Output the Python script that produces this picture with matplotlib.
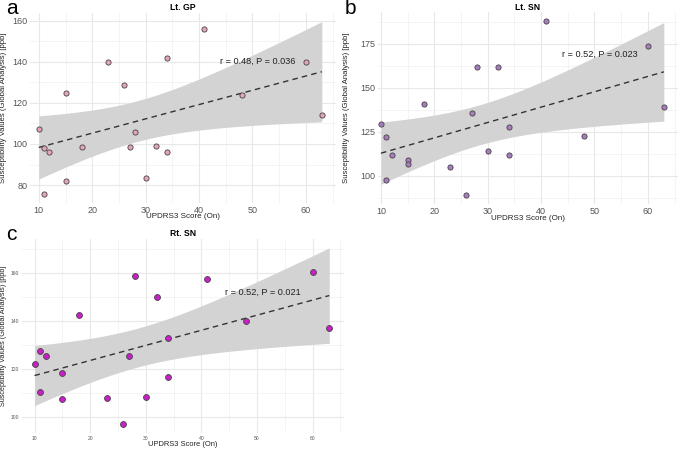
#!/usr/bin/env python
# -*- coding: utf-8 -*-
"""
UPDRS3 score vs. susceptibility values: three scatter panels with linear fit and 95% CI
"""

import numpy as np
import matplotlib
matplotlib.use('Agg')
import matplotlib.pyplot as plt
from matplotlib.ticker import MultipleLocator

plt.rcParams['font.family'] = ['Liberation Sans', 'DejaVu Sans']

# UPDRS3 score (On), shared by all panels
updrs3 = [10, 11, 11, 12, 15, 15, 18, 23, 26, 27, 28, 30, 32, 34, 34, 41, 48, 60, 63]

# susceptibility values [ppb]
lt_gp = [107.5, 98, 75.5, 96, 125, 82, 98.5, 140, 128.5, 98.5, 106, 83.5, 99, 142, 96, 156, 124, 140, 114]
lt_sn = [129.5, 122, 97.5, 112, 109, 107, 140.5, 105, 89, 135.5, 161.5, 114, 162, 128, 112, 188, 122.5, 173.5, 139]
rt_sn = [122, 127.5, 110.5, 125.5, 118.5, 107.5, 142.5, 108, 97, 125.5, 158.5, 108.5, 150, 133, 116.5, 157.5, 140, 160.5, 137]

titles = ['Lt. GP', 'Lt. SN', 'Rt. SN']
letters = ['a', 'b', 'c']
stats_text = ['r = 0.48, P = 0.036', 'r = 0.52, P = 0.023', 'r = 0.52, P = 0.021']
text_y = [140, 169, 152]
point_colors = ['#e6a3b9', '#a97cbf', '#c81fc8']

T_975_DF17 = 2.1098  # t quantile for 95% CI, n = 19

W, H = 678, 450


def fit_with_ci(x, y):
    """最小二乘直线 + 95%置信带"""
    x = np.asarray(x, float)
    y = np.asarray(y, float)
    n = len(x)
    slope, intercept = np.polyfit(x, y, 1)
    resid = y - (slope * x + intercept)
    s = np.sqrt(np.sum(resid ** 2) / (n - 2))
    xs = np.linspace(x.min(), x.max(), 100)
    fit = slope * xs + intercept
    se = s * np.sqrt(1 / n + (xs - x.mean()) ** 2 / np.sum((x - x.mean()) ** 2))
    return xs, fit, fit - T_975_DF17 * se, fit + T_975_DF17 * se


def draw_panel(ax, box, y, idx, sizes, ylocs, xleft, label_px):
    left, top, right, bottom = box
    xs, fit, lo, hi = fit_with_ci(updrs3, y)
    ax.fill_between(xs, lo, hi, color='#d3d3d3', lw=0, zorder=1)
    ax.plot(xs, fit, ls=(0, (4, 3)), color='#333333', lw=1.0, zorder=2)
    ax.scatter(updrs3, y, s=14 if idx < 2 else 18, c=point_colors[idx],
               edgecolors='#444444', linewidths=0.6, zorder=3)
    ax.text(51, text_y[idx], stats_text[idx], ha='center', va='center',
            fontsize=6.6, color='#222222', zorder=4)

    ax.margins(0.05)
    ax.set_xlim(xleft, 65.65)

    ax.xaxis.set_major_locator(MultipleLocator(10))
    ax.xaxis.set_minor_locator(MultipleLocator(5))
    ax.yaxis.set_major_locator(MultipleLocator(ylocs[0]))
    ax.yaxis.set_minor_locator(MultipleLocator(ylocs[1]))
    ax.grid(True, which='major', color='#e8e8e8', lw=0.8)
    ax.grid(True, which='minor', color='#f0f0f0', lw=0.5)
    ax.set_axisbelow(True)
    for sp in ax.spines.values():
        sp.set_visible(False)
    ax.tick_params(which='both', length=0, labelsize=sizes[0],
                   labelcolor='#555555', pad=2)

    ax.set_title(titles[idx], fontsize=6.2, fontweight='bold', pad=sizes[2])
    ax.set_xlabel('UPDRS3 Score (On)', fontsize=sizes[1], color='#222222')
    ax.set_ylabel('Susceptibility Values (Global Analysis) [ppb]', fontsize=sizes[1] - 0.2,
                  color='#222222')
    # 轴标题位置（像素）
    ylab_x, xlab_y = label_px
    ax.yaxis.set_label_coords((ylab_x - left) / (right - left), 0.5)
    ax.xaxis.set_label_coords(0.5, (bottom - xlab_y) / (bottom - top))
    ax.xaxis.label.set_va('center')
    ax.yaxis.label.set_va('center')


fig = plt.figure(figsize=(W / 100, H / 100), dpi=100)


def px_axes(box):
    left, top, right, bottom = box
    return fig.add_axes([left / W, 1 - bottom / H, (right - left) / W, (bottom - top) / H])


box_a = (30, 13, 336, 203)
box_b = (378, 12, 678, 204)
box_c = (22, 239, 344, 433)
ax_a = px_axes(box_a)
ax_b = px_axes(box_b)
ax_c = px_axes(box_c)

draw_panel(ax_a, box_a, lt_gp, 0, (6.5, 5.8, 2.0), (20, 10), 8.35, (4, 217))
draw_panel(ax_b, box_b, lt_sn, 1, (6.5, 5.8, 1.5), (25, 12.5), 9.45, (346, 218))
draw_panel(ax_c, box_c, rt_sn, 2, (3.6, 5.4, 2.5), (20, 10), 7.75, (4, 445))

fig.text(6 / W, 1 - 9 / H, 'a', fontsize=15, va='center', ha='left')
fig.text(345 / W, 1 - 9 / H, 'b', fontsize=15, va='center', ha='left')
fig.text(6 / W, 1 - 234 / H, 'c', fontsize=15, va='center', ha='left')

fig.savefig('out.png', dpi=100, facecolor='white')
